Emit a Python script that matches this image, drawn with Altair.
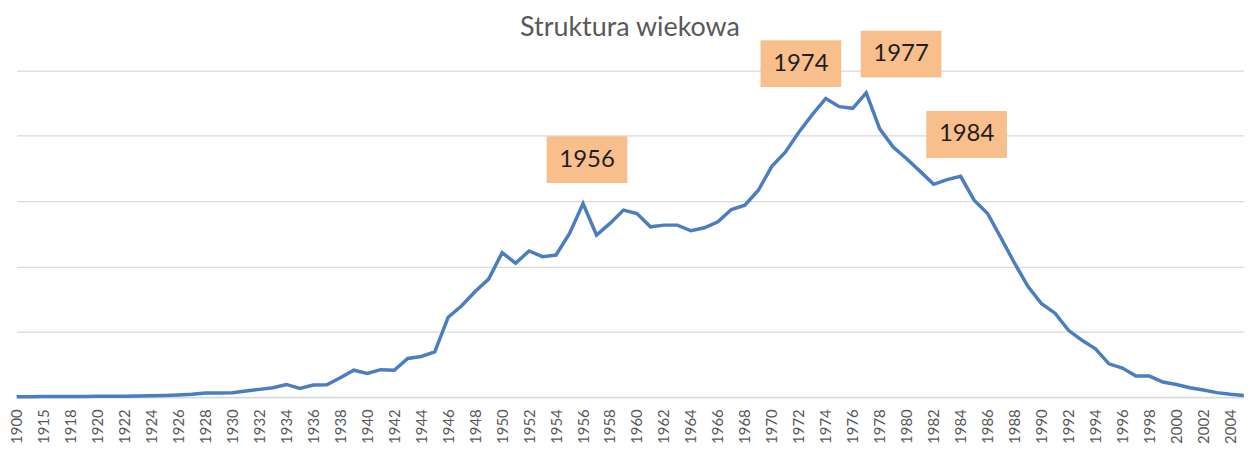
import altair as alt
import pandas as pd

years = ["1900", "1910", "1915", "1916"] + [str(y) for y in range(1918, 2006)]

values = [
    1, 1, 2, 2, 3, 3, 4, 4, 5, 6, 8, 10,          # 1900 .. 1925
    14, 19, 29, 29, 32, 44, 57, 70, 95, 65,       # 1926 .. 1935
    90, 93, 146, 204, 179, 208, 204, 294, 309, 345,  # 1936 .. 1945
    610, 698, 807, 902, 1105, 1024, 1118, 1074, 1087, 1253,  # 1946 .. 1955
    1482, 1240, 1329, 1431, 1405, 1303, 1316, 1316, 1273, 1296,  # 1956 .. 1965
    1341, 1436, 1469, 1583, 1766, 1875, 2028, 2163, 2287, 2224,  # 1966 .. 1975
    2211, 2329, 2054, 1914, 1825, 1728, 1629, 1665, 1690, 1507,  # 1976 .. 1985
    1405, 1217, 1024, 845, 713, 641, 510, 433, 368, 253,  # 1986 .. 1995
    220, 159, 159, 113, 95, 70, 52, 32, 19, 11,  # 1996 .. 2005
]

label_years = years[::2]

title_text = ["Struktura wiekowa"]

ann_years = ["1956", "1974", "1977", "1984"]
ann_dx = [4, -25, 35, 6]
ann_dy = [-44, -35, -39, -42]

df = pd.DataFrame({"rok": years, "liczba": values})
lookup = dict(zip(years, values))

x_scale = alt.Scale(type="point", domain=years, range=[8.7, 1240.8], padding=0)
y_scale = alt.Scale(domain=[0, 2500])

x_axis = alt.Axis(
    values=label_years, labelAngle=270, labelFont="Lato", labelFontSize=15,
    labelColor="#595959", ticks=False, domainColor="#D9D9D9", domainWidth=1.3,
    labelPadding=12, title=None, grid=False,
)
y_axis = alt.Axis(
    values=[0, 500, 1000, 1500, 2000, 2500], labels=False, ticks=False,
    domain=False, grid=True, gridColor="#D9D9D9", gridWidth=1.3, title=None,
)

line = alt.Chart(df).mark_line(color="#4A7EBF", strokeWidth=3.5).encode(
    x=alt.X("rok:O", scale=x_scale, axis=x_axis, sort=None),
    y=alt.Y("liczba:Q", scale=y_scale, axis=y_axis),
)

title = alt.Chart(pd.DataFrame({"t": title_text})).mark_text(
    font="Lato", fontSize=27, color="#595959", align="center",
    baseline="alphabetic",
).encode(x=alt.value(624.5), y=alt.value(-35), text="t:N")

layers = [line, title]
box_shape = "M-1,-0.58L1,-0.58L1,0.58L-1,0.58Z"
for yr, dx, dy in zip(ann_years, ann_dx, ann_dy):
    adf = pd.DataFrame({"rok": [yr], "liczba": [lookup[yr]]})
    box = alt.Chart(adf).mark_point(
        shape=box_shape, size=81 * 81, filled=True, opacity=1,
        color="#F8BF8C", strokeWidth=0, xOffset=dx, yOffset=dy,
    ).encode(
        x=alt.X("rok:O", scale=x_scale, sort=None),
        y=alt.Y("liczba:Q", scale=y_scale),
    )
    txt = alt.Chart(adf).mark_text(
        font="Lato", fontSize=24, color="#1F1F1F", dx=dx, dy=dy,
        align="center", baseline="middle",
    ).encode(
        x=alt.X("rok:O", scale=x_scale, sort=None),
        y=alt.Y("liczba:Q", scale=y_scale),
        text="rok:N",
    )
    layers += [box, txt]

chart = alt.layer(*layers).properties(
    width=1244,
    height=327.5,
    autosize=alt.AutoSizeParams(type="none"),
    padding={"left": 0, "top": 62, "right": 0, "bottom": 55},
).configure_view(stroke=None)

chart.save("out.html", embed_options={"renderer": "svg", "actions": False})
